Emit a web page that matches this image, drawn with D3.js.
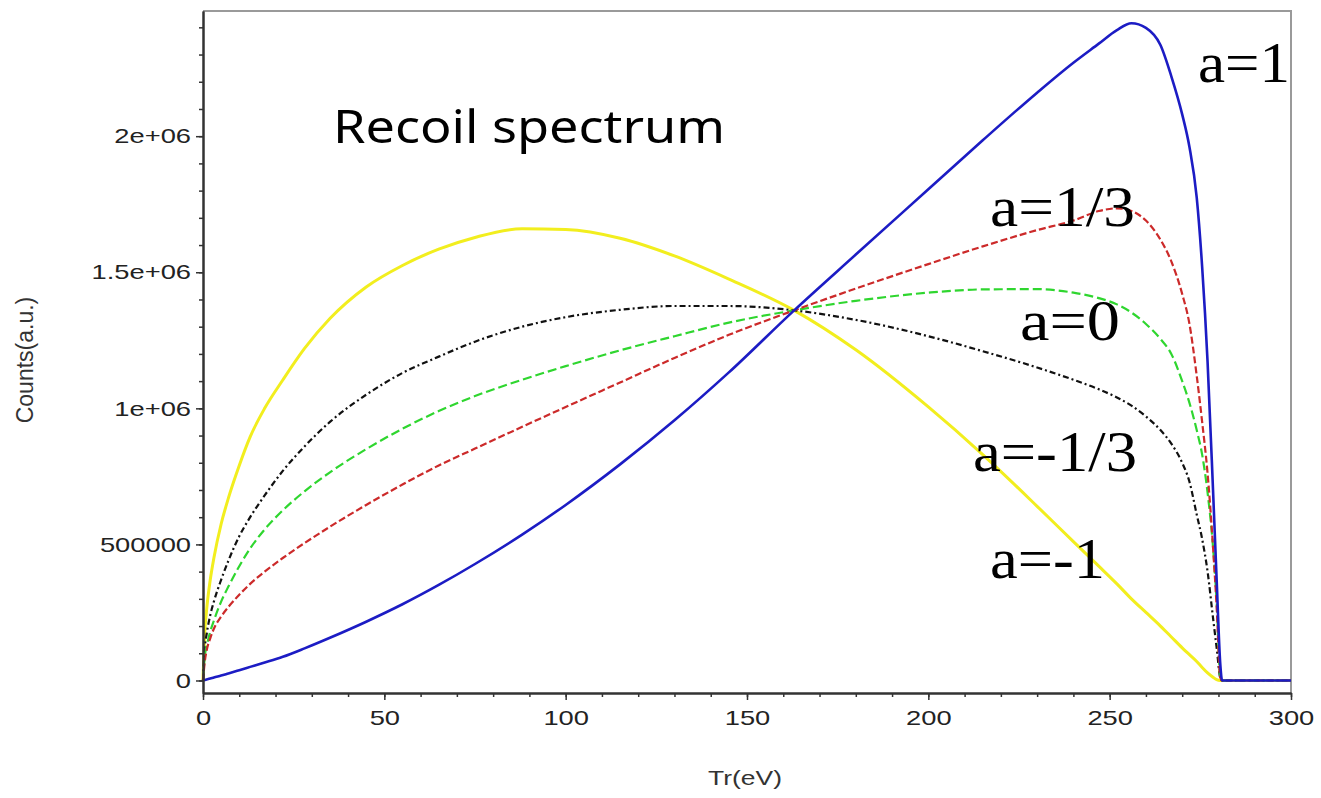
<!DOCTYPE html>
<html>
<head>
<meta charset="utf-8">
<script src="https://cdn.jsdelivr.net/npm/d3@7"></script>
<style>
body { margin: 0; background: #fff; }
svg { display: block; }
</style>
</head>
<body>
<div id="showChart"></div>
<script>
// recoil energy grid (eV)
var trVals = [0, 0.5, 1, 2, 3, 5, 7, 10, 13, 17, 22, 28, 35, 45, 55, 65, 75, 88, 100, 115, 130, 145, 163, 180, 200, 215, 230, 240, 247, 252, 256, 260, 264, 267, 270, 272, 274, 275.5, 277, 278.5, 279.5, 280.5, 281, 290, 300];

// counts in millions
var aPlus1 = [0, 0.0018, 0.0035, 0.007, 0.011, 0.018, 0.026, 0.038, 0.05, 0.066, 0.087, 0.118, 0.157, 0.216, 0.28, 0.351, 0.428, 0.536, 0.645, 0.794, 0.956, 1.132, 1.36, 1.565, 1.805, 1.985, 2.16, 2.27, 2.34, 2.39, 2.415, 2.398, 2.335, 2.22, 2.08, 1.96, 1.775, 1.52, 1.17, 0.70, 0.37, 0.06, 0, 0, 0];
var aPlusThird = [0, 0.07, 0.11, 0.155, 0.19, 0.235, 0.27, 0.315, 0.355, 0.40, 0.45, 0.505, 0.565, 0.645, 0.72, 0.79, 0.852, 0.932, 1.005, 1.095, 1.185, 1.27, 1.36, 1.44, 1.53, 1.595, 1.655, 1.69, 1.725, 1.735, 1.725, 1.69, 1.62, 1.54, 1.42, 1.31, 1.12, 0.95, 0.76, 0.49, 0.27, 0.01, 0, 0, 0];
var aZero = [0, 0.09, 0.125, 0.18, 0.22, 0.29, 0.345, 0.42, 0.485, 0.555, 0.625, 0.695, 0.765, 0.85, 0.925, 0.99, 1.045, 1.105, 1.155, 1.213, 1.265, 1.315, 1.36, 1.395, 1.425, 1.437, 1.438, 1.425, 1.405, 1.382, 1.352, 1.31, 1.255, 1.2, 1.10, 1.02, 0.92, 0.83, 0.69, 0.49, 0.29, 0.01, 0, 0, 0];
var aMinusThird = [0, 0.12, 0.17, 0.24, 0.29, 0.37, 0.44, 0.53, 0.60, 0.68, 0.77, 0.86, 0.95, 1.05, 1.13, 1.19, 1.245, 1.30, 1.335, 1.362, 1.376, 1.376, 1.36, 1.325, 1.265, 1.21, 1.15, 1.105, 1.07, 1.04, 1.01, 0.97, 0.92, 0.87, 0.80, 0.73, 0.61, 0.52, 0.40, 0.23, 0.12, 0.01, 0, 0, 0];
var aMinus1 = [0, 0.18, 0.26, 0.37, 0.45, 0.575, 0.67, 0.79, 0.895, 1.0, 1.104, 1.22, 1.33, 1.446, 1.525, 1.585, 1.628, 1.66, 1.657, 1.625, 1.56, 1.475, 1.36, 1.215, 1.005, 0.83, 0.64, 0.51, 0.42, 0.355, 0.30, 0.25, 0.20, 0.16, 0.12, 0.095, 0.07, 0.048, 0.028, 0.012, 0.003, 0, 0, 0, 0];

var xTicks = [0, 50, 100, 150, 200, 250, 300];
var yTicks = [0, 500000, 1000000, 1500000, 2000000];
var yTickLabels = ["0", "500000", "1e+06", "1.5e+06", "2e+06"];

// curve names, colours and dash patterns
var seriesNames = ["a=-1", "a=-1/3", "a=0", "a=1/3", "a=1"];
var seriesData = [aMinus1, aMinusThird, aZero, aPlusThird, aPlus1];
var seriesColors = ["#f2ee1e", "#111111", "#2fd62f", "#cc2a2a", "#1c1cc4"];
var seriesDash = [null, "6,3,2,3", "9,4", "7,3", null];

// label positions (text, x, baseline, width)
var labelPos = [
  ["a=1", 1198, 82, 92],
  ["a=1/3", 990, 226, 145],
  ["a=0", 1020, 340, 100],
  ["a=-1/3", 973, 471, 164],
  ["a=-1", 990, 578, 115]
];

var width = 1321, height = 798;
var plotL = 203, plotR = 1291, plotT = 11, plotB = 693;

var svg = d3.select("#showChart")
    .append("svg")
    .attr("width", width)
    .attr("height", height);

var x = d3.scaleLinear().domain([0, 300]).range([plotL, plotR]);
var y = d3.scaleLinear().domain([-46000, 2460000]).range([plotB, plotT]);

// frame (top + right in grey)
svg.append("path")
    .attr("d", "M" + plotL + "," + plotT + "H" + plotR + "V" + plotB)
    .attr("fill", "none")
    .attr("stroke", "#9a9a9a")
    .attr("stroke-width", 2);

// curves
var line = d3.line()
    .x(function(d) { return x(d[0]); })
    .y(function(d) { return y(d[1] * 1e6); })
    .curve(d3.curveMonotoneX);

for (var i = 0; i < seriesData.length; i++) {
  var pts = trVals.map(function(t, k) { return [t, seriesData[i][k]]; });
  svg.append("path")
      .datum(pts)
      .attr("d", line)
      .attr("fill", "none")
      .attr("stroke", seriesColors[i])
      .attr("stroke-width", i == 0 ? 3 : (i == 4 ? 2.6 : 2.2))
      .attr("stroke-dasharray", seriesDash[i]);
}

// x axis
svg.append("g")
    .attr("transform", "translate(0," + plotB + ")")
    .call(d3.axisBottom(x).tickValues(xTicks).tickSize(7).tickSizeOuter(0).tickPadding(10));
svg.append("g")
    .attr("transform", "translate(0," + plotB + ")")
    .call(d3.axisBottom(x).tickValues(d3.range(0, 301, 10)).tickSize(4).tickFormat("").tickSizeOuter(0));

// y axis
svg.append("g")
    .attr("transform", "translate(" + plotL + ",0)")
    .call(d3.axisLeft(y).tickValues(yTicks).tickSize(7).tickSizeOuter(0).tickPadding(5)
      .tickFormat(function(d, i) { return yTickLabels[i]; }));
svg.append("g")
    .attr("transform", "translate(" + plotL + ",0)")
    .call(d3.axisLeft(y).tickValues(d3.range(0, 2450000, 100000)).tickSize(4).tickFormat("").tickSizeOuter(0));

svg.selectAll(".domain").attr("stroke", "#333").attr("stroke-width", 2);
svg.selectAll(".tick line").attr("stroke", "#333").attr("stroke-width", 1.5);

// tick labels are wide in the original, stretch them a bit
svg.selectAll(".tick text")
    .attr("font-family", "Liberation Sans, Arial, sans-serif")
    .style("font-size", "21px")
    .attr("fill", "#222")
    .each(function() {
      var w = this.getComputedTextLength();
      d3.select(this)
        .attr("textLength", w * 1.3)
        .attr("lengthAdjust", "spacingAndGlyphs");
    });

// axis titles
svg.append("text")
    .attr("x", 745).attr("y", 785)
    .attr("text-anchor", "middle")
    .attr("font-family", "Liberation Sans, Arial, sans-serif")
    .attr("font-size", 21)
    .attr("textLength", 74)
    .attr("lengthAdjust", "spacingAndGlyphs")
    .attr("fill", "#333")
    .text("Tr(eV)");

svg.append("text")
    .attr("transform", "translate(33,360) rotate(-90)")
    .attr("text-anchor", "middle")
    .attr("font-family", "Liberation Sans, Arial, sans-serif")
    .attr("font-size", 23)
    .attr("fill", "#333")
    .text("Counts(a.u.)");

// title inside the plot
svg.append("text")
    .attr("x", 333).attr("y", 143)
    .attr("font-family", "Comic Sans MS, Noto Sans, sans-serif")
    .attr("font-size", 46)
    .attr("textLength", 392)
    .attr("lengthAdjust", "spacingAndGlyphs")
    .attr("fill", "#000")
    .text("Recoil spectrum");

// curve labels
svg.selectAll(".lab")
    .data(labelPos)
    .enter()
    .append("text")
    .attr("class", "lab")
    .attr("x", function(d) { return d[1]; })
    .attr("y", function(d) { return d[2]; })
    .attr("textLength", function(d) { return d[3]; })
    .attr("lengthAdjust", "spacingAndGlyphs")
    .attr("font-family", "Liberation Serif, Times New Roman, serif")
    .attr("font-size", 58)
    .attr("fill", "#000")
    .text(function(d) { return d[0]; });
</script>
</body>
</html>
